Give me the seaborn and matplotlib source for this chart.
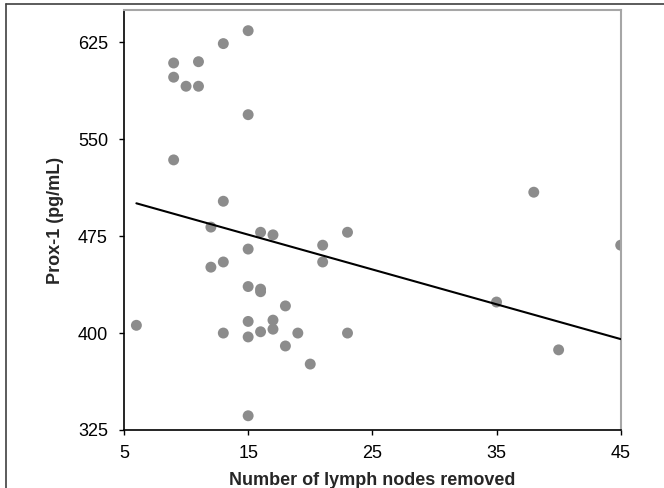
import matplotlib
matplotlib.use("Agg")
import matplotlib.pyplot as plt
from matplotlib.lines import Line2D
import numpy as np
import pandas as pd
import seaborn as sns

# Lymph nodes removed vs. serum Prox-1 concentration
nodes_removed = [6, 9, 9, 9, 10, 11, 11, 12, 12, 13, 13, 13, 13,
                 15, 15, 15, 15, 15, 15, 15, 16, 16, 16, 16, 17, 17, 17,
                 18, 18, 19, 20, 21, 21, 23, 23, 35, 38, 40, 45]
prox1 = [406, 609, 598, 534, 591, 610, 591, 482, 451, 624, 502, 455, 400,
         634, 569, 465, 436, 409, 397, 336, 478, 434, 432, 401, 476, 410, 403,
         421, 390, 400, 376, 468, 455, 478, 400, 424, 509, 387, 468]

x_ticks = [5, 15, 25, 35, 45]
y_ticks = [325, 400, 475, 550, 625]

df = pd.DataFrame({"nodes": nodes_removed, "prox1": prox1})

sns.set_style("white")
plt.rcParams["font.family"] = ["Liberation Sans", "DejaVu Sans"]

fig = plt.figure(figsize=(6.64, 4.88), dpi=100)
ax = fig.add_axes([0.1867, 0.1189, 0.9348 - 0.1867, 0.9795 - 0.1189])

sns.regplot(data=df, x="nodes", y="prox1", ax=ax, ci=None, truncate=True,
            scatter_kws=dict(s=62, color="#8c8c8c", edgecolor="none", alpha=1, zorder=2),
            line_kws=dict(color="black", lw=1.5, zorder=3))

ax.set_xlim(5, 45)
ax.set_ylim(325, 650)
ax.set_xticks(x_ticks)
ax.set_yticks(y_ticks)
ax.tick_params(axis="both", direction="out", length=3.5, width=1, colors="black",
               labelsize=13, bottom=True, left=True)
ax.tick_params(axis="x", pad=7.5)
ax.tick_params(axis="y", pad=8)

for side in ("left", "bottom"):
    ax.spines[side].set_color("black")
    ax.spines[side].set_linewidth(1.2)
for side in ("top", "right"):
    ax.spines[side].set_visible(True)
    ax.spines[side].set_color("#a6a6a6")
    ax.spines[side].set_linewidth(1.5)

ax.set_xlabel("Number of lymph nodes removed", fontsize=13, fontweight="bold", labelpad=7)
ax.set_ylabel("Prox-1 (pg/mL)", fontsize=13, fontweight="bold", labelpad=10)

# Outer frame: top and left edges of the figure border
fx = 6 / 664
fy = 1 - 4 / 488
fig.add_artist(Line2D([fx, 1.0], [fy, fy], transform=fig.transFigure,
                      color="#404040", lw=1.2))
fig.add_artist(Line2D([fx, fx], [0.0, fy], transform=fig.transFigure,
                      color="#404040", lw=1.2))

fig.savefig("out.png", dpi=100)
